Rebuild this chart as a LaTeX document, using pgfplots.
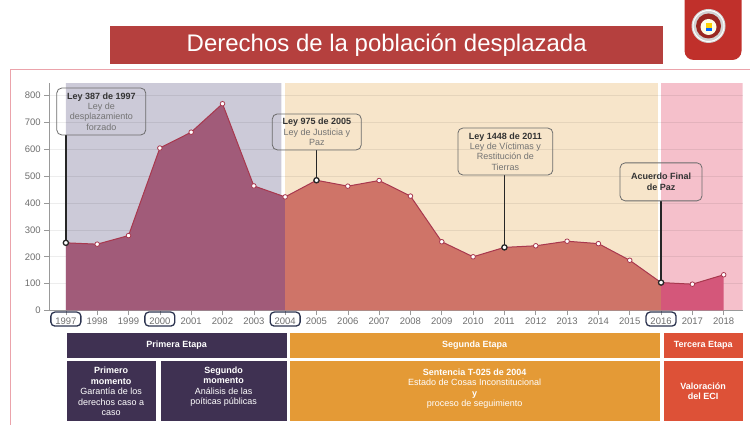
\documentclass[border=0pt]{standalone}
\usepackage{pgfplots}
\pgfplotsset{compat=1.18}
\usepackage{fontspec}
\setmainfont{Liberation Sans}
\definecolor{bandgray}{HTML}{CCCAD8}
\definecolor{bandbeige}{HTML}{F7E5CA}
\definecolor{bandpink}{HTML}{F5C0CB}
\definecolor{fillpurple}{HTML}{A15B79}
\definecolor{fillsalmon}{HTML}{CF7468}
\definecolor{fillpink}{HTML}{D4577A}
\definecolor{linered}{HTML}{A8384E}
\definecolor{navy}{HTML}{2C3450}
\definecolor{boxpurple}{HTML}{3F3152}
\definecolor{boxorange}{HTML}{E49A36}
\definecolor{boxred}{HTML}{DD5137}
\definecolor{bannerred}{HTML}{B5403E}
\definecolor{framepink}{HTML}{EBA3AB}
\definecolor{logored}{HTML}{C0302B}
\definecolor{ticktext}{HTML}{6E6E6E}
\begin{document}
\begin{tikzpicture}[x=1pt,y=1pt]
\path (0,0) rectangle (750,425);
\draw[framepink, line width=1pt] (10.5,0) -- (10.5,355) -- (750,355);
\fill[bannerred] (110,361) rectangle (663,399);
\node[white, font=\fontsize{24}{28}\selectfont] at (387,380) {Derechos de la población desplazada};
% logo
\fill[logored] (685,425) [rounded corners=9pt] -- (685,365) -- (742,365) [sharp corners] -- (742,425) -- cycle;
\fill[gray!35] (709,399) circle (17);
\draw[white, line width=1pt] (709,399) circle (15.5);
\fill[logored!80!black] (709,399) circle (12.5);
\fill[white!90!yellow] (709,398) circle (8);
\fill[yellow!70!orange] (706,395) rectangle (712,402);
\fill[blue!60!cyan] (706,394) rectangle (712,397);

\begin{axis}[
  at={(49.3pt,114.3pt)}, anchor=south west, scale only axis,
  width=693.7pt, height=227.6pt,
  xmin=1996.47, xmax=2018.6, ymin=0, ymax=847,
  set layers, clip=false,
  axis x line*=bottom, axis y line*=left,
  axis line style={draw=gray!80, line width=0.8pt},
  xtick={1997,1998,...,2018},
  ytick={0,100,...,800},
  tick align=outside, major tick length=5pt,
  tick style={draw=gray!80, line width=0.6pt},
  /pgf/number format/1000 sep={},
  /pgf/number format/assume math mode=true,
  xticklabel style={font=\fontsize{9.5}{10}\selectfont, text=ticktext, yshift=1pt},
  yticklabel style={font=\fontsize{9.5}{10}\selectfont, text=ticktext},
  ymajorgrids, grid style={draw=black, opacity=0.07, line width=0.6pt},
]
% background bands
\addplot[on layer=axis background, fill=bandgray, draw=none] coordinates {(1997,0) (1997,847) (2003.88,847) (2003.88,0)} \closedcycle;
\addplot[on layer=axis background, fill=bandbeige, draw=none] coordinates {(2004,0) (2004,847) (2015.9,847) (2015.9,0)} \closedcycle;
\addplot[on layer=axis background, fill=bandpink, draw=none] coordinates {(2016,0) (2016,847) (2018.6,847) (2018.6,0)} \closedcycle;
% areas
\addplot[fill=fillpurple, draw=none] coordinates {(1997,252) (1998,247) (1999,279) (2000,605) (2001,664) (2002,770) (2003,464) (2004,423)} \closedcycle;
\addplot[fill=fillsalmon, draw=none] coordinates {(2004,423) (2005,485) (2006,463) (2007,484) (2008,426) (2009,256) (2010,200) (2011,235) (2012,241) (2013,258) (2014,249) (2015,187) (2016,104)} \closedcycle;
\addplot[fill=fillpink, draw=none] coordinates {(2016,104) (2017,98) (2018,133)} \closedcycle;
% line with markers
\addplot[linered, line width=1pt, mark=*, mark size=2.3pt, mark options={fill=white, draw=linered, line width=0.8pt}] coordinates {(1997,252) (1998,247) (1999,279) (2000,605) (2001,664) (2002,770) (2003,464) (2004,423) (2005,485) (2006,463) (2007,484) (2008,426) (2009,256) (2010,200) (2011,235) (2012,241) (2013,258) (2014,249) (2015,187) (2016,104) (2017,98) (2018,133)};
% callout stems
\draw[black!85, line width=1.6pt] (axis cs:1997,252) -- (axis cs:1997,654);
\draw[black!85, line width=1.6pt] (axis cs:2005,485) -- (axis cs:2005,598);
\draw[black!85, line width=1.6pt] (axis cs:2011,235) -- (axis cs:2011,505);
\draw[black!85, line width=1.6pt] (axis cs:2016,104) -- (axis cs:2016,409);
\addplot[only marks, mark=*, mark size=2.6pt, mark options={fill=white, draw=black!85, line width=1.3pt}] coordinates {(1997,252) (2005,485) (2011,235) (2016,104)};
% callout boxes
\node[draw=gray!85!black, line width=0.8pt, rounded corners=5pt, minimum width=89pt, minimum height=47pt, align=center, inner sep=1pt,
  font=\fontsize{9}{10.3}\selectfont, text=black!55] at (axis cs:1998.13,741)
  {\textbf{\color{black!80}Ley 387 de 1997}\\Ley de\\desplazamiento\\forzado};
\node[draw=gray!85!black, line width=0.8pt, rounded corners=5pt, minimum width=89pt, minimum height=36pt, align=center, inner sep=1pt,
  font=\fontsize{9}{10.3}\selectfont, text=black!55] at (axis cs:2005.01,665)
  {\textbf{\color{black!80}Ley 975 de 2005}\\Ley de Justicia y\\Paz};
\node[draw=gray!85!black, line width=0.8pt, rounded corners=5pt, minimum width=95pt, minimum height=47pt, align=center, inner sep=1pt,
  font=\fontsize{9}{10.3}\selectfont, text=black!55] at (axis cs:2011.03,592)
  {\textbf{\color{black!80}Ley 1448 de 2011}\\Ley de Víctimas y\\Restitución de\\Tierras};
\node[draw=gray!85!black, line width=0.8pt, rounded corners=5pt, minimum width=82pt, minimum height=38pt, align=center, inner sep=1pt,
  font=\fontsize{9}{10.3}\selectfont\bfseries, text=black!80] at (axis cs:2016,479)
  {Acuerdo Final\\de Paz};
% circled years
\node[draw=navy, line width=1.3pt, rounded corners=4pt, minimum width=30pt, minimum height=14pt, inner sep=0pt] at (axis cs:1997,-32) {};
\node[draw=navy, line width=1.3pt, rounded corners=4pt, minimum width=30pt, minimum height=14pt, inner sep=0pt] at (axis cs:2000,-32) {};
\node[draw=navy, line width=1.3pt, rounded corners=4pt, minimum width=30pt, minimum height=14pt, inner sep=0pt] at (axis cs:2004,-32) {};
\node[draw=navy, line width=1.3pt, rounded corners=4pt, minimum width=30pt, minimum height=14pt, inner sep=0pt] at (axis cs:2016,-32) {};
\end{axis}

% bottom stage boxes
\fill[boxpurple] (66.7,67) rectangle (286.7,92);
\fill[boxorange] (290,67) rectangle (660,92);
\fill[boxred] (664,67) rectangle (743.5,92);
\fill[boxpurple] (66.7,3.3) rectangle (156,63.3);
\fill[boxpurple] (160.7,3.3) rectangle (286.7,63.3);
\fill[boxorange] (290,3.3) rectangle (660,63.3);
\fill[boxred] (664,3.3) rectangle (743.5,63.3);
\begin{scope}[every node/.style={white, align=center, font=\fontsize{9}{10.5}\selectfont}]
\node[font=\fontsize{9}{10.5}\selectfont\bfseries] at (176.7,79.5) {Primera Etapa};
\node[font=\fontsize{9}{10.5}\selectfont\bfseries] at (475,79.5) {Segunda Etapa};
\node[font=\fontsize{9}{10.5}\selectfont\bfseries] at (703.7,79.5) {Tercera Etapa};
\node at (111.3,33.3) {\textbf{Primero}\\\textbf{momento}\\Garantía de los\\derechos caso a\\caso};
\node at (223.7,38) {\textbf{Segundo}\\\textbf{momento}\\Análisis de las\\poíticas públicas};
\node at (475,36) {\textbf{Sentencia T-025 de 2004}\\Estado de Cosas Inconstitucional\\\textbf{y}\\proceso de seguimiento};
\node[font=\fontsize{9}{10.5}\selectfont\bfseries] at (703.7,33.3) {Valoración\\del ECI};
\end{scope}
\end{tikzpicture}
\end{document}
